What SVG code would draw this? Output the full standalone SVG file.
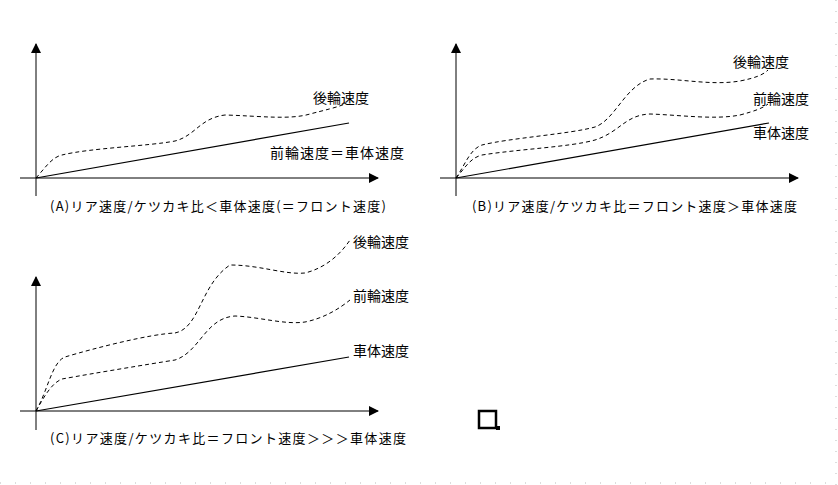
<svg xmlns="http://www.w3.org/2000/svg" width="838" height="485" viewBox="0 0 838 485">
<defs><marker id="ar" markerWidth="10" markerHeight="10" refX="9" refY="5" orient="auto" markerUnits="userSpaceOnUse"><path d="M0,0 L10,5 L0,10 z" fill="#000"/></marker></defs>
<style>
.ax{stroke:#000;stroke-width:1;fill:none}
.s{stroke:#000;stroke-width:1.2;fill:none}
.d{stroke:#000;stroke-width:1;fill:none;stroke-dasharray:4,3}
text{font-family:"Noto Sans CJK JP",sans-serif;font-size:14px;fill:#000}
.c{font-size:13px}
</style>
<rect width="838" height="485" fill="#fff"/>
<line x1="836" y1="0" x2="836" y2="485" stroke="#bbb" stroke-dasharray="1,10"/>
<line x1="0" y1="483" x2="838" y2="483" stroke="#bbb" stroke-dasharray="1,14"/>
<g id="connectors">
<line class="ax" x1="36" y1="196" x2="36" y2="44" marker-end="url(#ar)"/>
<line class="ax" x1="20" y1="178" x2="378" y2="178" marker-end="url(#ar)"/>
<line class="s" x1="36" y1="178" x2="349" y2="123"/>
<path class="d" d="M36,178 C45,168 52,157 62,155 C90,148 150,146 175,141 C195,136 200,118 225,115 C260,116 290,120 310,114 C325,110 335,108 345,104"/>
<line class="ax" x1="456" y1="196" x2="456" y2="44" marker-end="url(#ar)"/>
<line class="ax" x1="440" y1="178" x2="798" y2="178" marker-end="url(#ar)"/>
<line class="s" x1="456" y1="178" x2="769" y2="123"/>
<path class="d" d="M456,178 C465,165 470,149 482,145 C510,138 570,134 595,127 C615,120 625,86 650,79 C680,78 710,86 740,81 C755,78 763,75 768,70"/>
<path class="d" d="M456,178 C465,168 470,158 482,155 C520,149 570,147 595,140 C620,132 625,115 650,114 C680,115 715,120 740,115 C755,111 763,108 768,104"/>
<line class="ax" x1="36" y1="430" x2="36" y2="277" marker-end="url(#ar)"/>
<line class="ax" x1="20" y1="411" x2="378" y2="411" marker-end="url(#ar)"/>
<line class="s" x1="36" y1="411" x2="349" y2="357"/>
<path class="d" d="M36,411 C48,390 52,362 65,357 C95,348 150,334 175,333 C200,328 200,285 230,265 C260,265 285,275 305,273 C325,268 340,255 350,240"/>
<path class="d" d="M36,411 C45,395 52,383 62,379 C95,373 150,364 175,360 C200,352 205,318 235,316 C260,317 285,325 305,322 C325,318 340,308 350,300"/>
</g>
<g id="labelsA">
<text x="313" y="103">後輪速度</text>
<text x="270" y="158" textLength="134">前輪速度＝車体速度</text>
<text class="c" x="50" y="211" textLength="336">(A)リア速度/ケツカキ比＜車体速度(＝フロント速度)</text>
</g>
<g id="labelsB">
<text x="733" y="67">後輪速度</text>
<text x="753" y="104">前輪速度</text>
<text x="753" y="138">車体速度</text>
<text class="c" x="472" y="211" textLength="325">(B)リア速度/ケツカキ比＝フロント速度＞車体速度</text>
</g>
<g id="labelsC">
<text x="353" y="247">後輪速度</text>
<text x="353" y="301">前輪速度</text>
<text x="353" y="356">車体速度</text>
<text class="c" x="50" y="443" textLength="356">(C)リア速度/ケツカキ比＝フロント速度＞＞＞車体速度</text>
</g>
<g id="handle">
<rect x="479" y="411" width="17" height="17" fill="none" stroke="#000" stroke-width="2.5"/>
<rect x="496" y="426" width="4" height="4" fill="#000"/>
</g>
</svg>
